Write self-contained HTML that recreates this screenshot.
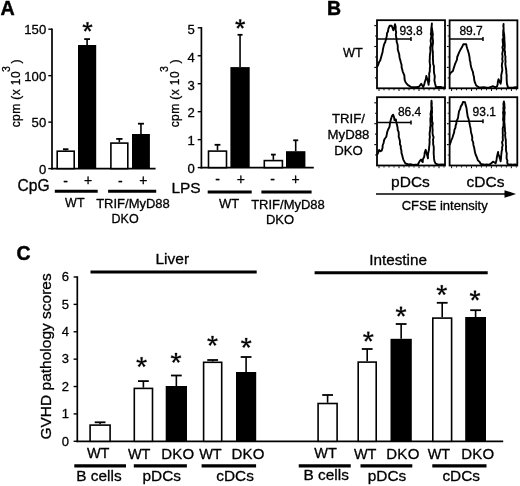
<!DOCTYPE html>
<html><head><meta charset="utf-8"><title>Figure</title>
<style>
html,body{margin:0;padding:0;background:#fff;}
body{width:520px;height:486px;overflow:hidden;}
svg{display:block;}
svg text{font-family:"Liberation Sans", sans-serif;fill:#000;stroke:#000;stroke-width:0.3px;stroke-linejoin:round;}
svg{will-change:transform;}
</style></head><body>
<svg width="520" height="486" viewBox="0 0 520 486">
<rect x="0" y="0" width="520" height="486" fill="#fff"/>
<text x="0.4" y="14.7" font-size="19.7" text-anchor="start" font-weight="bold" style="stroke-width:0.45px">A</text>
<line x1="52.0" y1="28.5" x2="52.0" y2="169.45" stroke="#000" stroke-width="1.7" stroke-linecap="butt"/>
<line x1="51.15" y1="168.6" x2="155.6" y2="168.6" stroke="#000" stroke-width="1.7" stroke-linecap="butt"/>
<line x1="48.3" y1="168.6" x2="52.0" y2="168.6" stroke="#000" stroke-width="1.4" stroke-linecap="butt"/>
<text x="46.2" y="173.5" font-size="13.1" text-anchor="end" font-weight="normal">0</text>
<line x1="48.3" y1="122.13333333333333" x2="52.0" y2="122.13333333333333" stroke="#000" stroke-width="1.4" stroke-linecap="butt"/>
<text x="46.2" y="127.03333333333333" font-size="13.1" text-anchor="end" font-weight="normal">50</text>
<line x1="48.3" y1="75.66666666666666" x2="52.0" y2="75.66666666666666" stroke="#000" stroke-width="1.4" stroke-linecap="butt"/>
<text x="46.2" y="80.56666666666666" font-size="13.1" text-anchor="end" font-weight="normal">100</text>
<line x1="48.3" y1="29.19999999999999" x2="52.0" y2="29.19999999999999" stroke="#000" stroke-width="1.4" stroke-linecap="butt"/>
<text x="46.2" y="34.09999999999999" font-size="13.1" text-anchor="end" font-weight="normal">150</text>
<text x="20.4" y="127.3" font-size="12" text-anchor="start" font-weight="normal" transform="rotate(-90 20.4 127.3)" letter-spacing="0.4">cpm (x 10</text>
<text x="10.099999999999998" y="72.0" font-size="10.5" text-anchor="start" font-weight="normal" transform="rotate(-90 10.099999999999998 72.0)">3</text>
<text x="20.4" y="63.6" font-size="12" text-anchor="start" font-weight="normal" transform="rotate(-90 20.4 63.6)">)</text>
<line x1="65.7" y1="150.4" x2="65.7" y2="149.2" stroke="#000" stroke-width="1.6" stroke-linecap="butt"/>
<line x1="62.95" y1="149.2" x2="68.45" y2="149.2" stroke="#000" stroke-width="1.8" stroke-linecap="butt"/>
<rect x="57.199999999999996" y="151.20000000000002" width="17.0" height="17.399999999999988" fill="#fff" stroke="#000" stroke-width="1.6"/>
<line x1="87.1" y1="45" x2="87.1" y2="39.1" stroke="#000" stroke-width="1.6" stroke-linecap="butt"/>
<line x1="84.19999999999999" y1="39.1" x2="90.0" y2="39.1" stroke="#000" stroke-width="1.8" stroke-linecap="butt"/>
<rect x="78" y="45" width="18.200000000000003" height="123.6" fill="#000"/>
<line x1="119.35" y1="142.3" x2="119.35" y2="138.9" stroke="#000" stroke-width="1.6" stroke-linecap="butt"/>
<line x1="116.19999999999999" y1="138.9" x2="122.5" y2="138.9" stroke="#000" stroke-width="1.8" stroke-linecap="butt"/>
<rect x="110.89999999999999" y="143.10000000000002" width="16.9" height="25.499999999999982" fill="#fff" stroke="#000" stroke-width="1.6"/>
<line x1="140.95" y1="134" x2="140.95" y2="123.7" stroke="#000" stroke-width="1.6" stroke-linecap="butt"/>
<line x1="137.95" y1="123.7" x2="143.95" y2="123.7" stroke="#000" stroke-width="1.8" stroke-linecap="butt"/>
<rect x="132" y="134" width="17.900000000000006" height="34.599999999999994" fill="#000"/>
<path d="M88.05,27.00L88.60,22.30L86.40,22.30L86.95,27.00ZM87.67,27.52L92.31,26.59L91.63,24.50L87.33,26.48ZM87.06,27.32L89.37,31.45L91.15,30.16L87.94,26.68ZM87.06,26.68L83.85,30.16L85.63,31.45L87.94,27.32ZM87.67,26.48L83.37,24.50L82.69,26.59L87.33,27.52Z" fill="#000" stroke="#000" stroke-width="0.3" stroke-linejoin="round"/>
<text x="17.6" y="191.4" font-size="15.6" text-anchor="start" font-weight="normal">CpG</text>
<text x="65.5" y="185.5" font-size="14" text-anchor="middle" font-weight="normal">-</text>
<text x="88.2" y="185.3" font-size="14" text-anchor="middle" font-weight="normal">+</text>
<text x="120.4" y="185.5" font-size="14" text-anchor="middle" font-weight="normal">-</text>
<text x="143.4" y="185.1" font-size="14" text-anchor="middle" font-weight="normal">+</text>
<line x1="54.8" y1="191.3" x2="97.7" y2="191.3" stroke="#000" stroke-width="3" stroke-linecap="butt"/>
<line x1="108.1" y1="191.3" x2="156.2" y2="191.3" stroke="#000" stroke-width="3" stroke-linecap="butt"/>
<text x="74.8" y="207.4" font-size="12.5" text-anchor="middle" font-weight="normal">WT</text>
<text x="133" y="208" font-size="13" text-anchor="middle" font-weight="normal">TRIF/MyD88</text>
<text x="125.1" y="223.1" font-size="12.5" text-anchor="middle" font-weight="normal">DKO</text>
<line x1="201.4" y1="27.1" x2="201.4" y2="168.45" stroke="#000" stroke-width="1.7" stroke-linecap="butt"/>
<line x1="200.55" y1="167.6" x2="313.8" y2="167.6" stroke="#000" stroke-width="1.7" stroke-linecap="butt"/>
<line x1="197.70000000000002" y1="167.6" x2="201.4" y2="167.6" stroke="#000" stroke-width="1.4" stroke-linecap="butt"/>
<text x="194.8" y="173.4" font-size="13.1" text-anchor="end" font-weight="normal">0</text>
<line x1="197.70000000000002" y1="139.64" x2="201.4" y2="139.64" stroke="#000" stroke-width="1.4" stroke-linecap="butt"/>
<text x="194.8" y="145.44" font-size="13.1" text-anchor="end" font-weight="normal">1</text>
<line x1="197.70000000000002" y1="111.68" x2="201.4" y2="111.68" stroke="#000" stroke-width="1.4" stroke-linecap="butt"/>
<text x="194.8" y="117.48" font-size="13.1" text-anchor="end" font-weight="normal">2</text>
<line x1="197.70000000000002" y1="83.72" x2="201.4" y2="83.72" stroke="#000" stroke-width="1.4" stroke-linecap="butt"/>
<text x="194.8" y="89.52" font-size="13.1" text-anchor="end" font-weight="normal">3</text>
<line x1="197.70000000000002" y1="55.760000000000005" x2="201.4" y2="55.760000000000005" stroke="#000" stroke-width="1.4" stroke-linecap="butt"/>
<text x="194.8" y="61.56" font-size="13.1" text-anchor="end" font-weight="normal">4</text>
<line x1="197.70000000000002" y1="27.80000000000001" x2="201.4" y2="27.80000000000001" stroke="#000" stroke-width="1.4" stroke-linecap="butt"/>
<text x="194.8" y="33.60000000000001" font-size="13.1" text-anchor="end" font-weight="normal">5</text>
<text x="178.9" y="127.3" font-size="12" text-anchor="start" font-weight="normal" transform="rotate(-90 178.9 127.3)" letter-spacing="0.4">cpm (x 10</text>
<text x="167.6" y="72.0" font-size="10.5" text-anchor="start" font-weight="normal" transform="rotate(-90 167.6 72.0)">3</text>
<text x="178.9" y="63.6" font-size="12" text-anchor="start" font-weight="normal" transform="rotate(-90 178.9 63.6)">)</text>
<line x1="217.5" y1="150.3" x2="217.5" y2="144.8" stroke="#000" stroke-width="1.6" stroke-linecap="butt"/>
<line x1="214.6" y1="144.8" x2="220.4" y2="144.8" stroke="#000" stroke-width="1.8" stroke-linecap="butt"/>
<rect x="208.5" y="151.10000000000002" width="18.00000000000002" height="16.499999999999982" fill="#fff" stroke="#000" stroke-width="1.6"/>
<line x1="240.05" y1="67.1" x2="240.05" y2="34.8" stroke="#000" stroke-width="1.6" stroke-linecap="butt"/>
<line x1="237.55" y1="34.8" x2="242.55" y2="34.8" stroke="#000" stroke-width="1.8" stroke-linecap="butt"/>
<rect x="230.4" y="67.1" width="19.299999999999983" height="100.5" fill="#000"/>
<line x1="273.35" y1="159.8" x2="273.35" y2="154.6" stroke="#000" stroke-width="1.6" stroke-linecap="butt"/>
<line x1="270.95000000000005" y1="154.6" x2="275.75" y2="154.6" stroke="#000" stroke-width="1.8" stroke-linecap="butt"/>
<rect x="264.3" y="160.60000000000002" width="18.099999999999987" height="6.999999999999983" fill="#fff" stroke="#000" stroke-width="1.6"/>
<line x1="295.7" y1="151.2" x2="295.7" y2="140.3" stroke="#000" stroke-width="1.6" stroke-linecap="butt"/>
<line x1="293.2" y1="140.3" x2="298.2" y2="140.3" stroke="#000" stroke-width="1.8" stroke-linecap="butt"/>
<rect x="286" y="151.2" width="19.399999999999977" height="16.400000000000006" fill="#000"/>
<path d="M240.75,24.10L241.30,19.40L239.10,19.40L239.65,24.10ZM240.37,24.62L245.01,23.69L244.33,21.60L240.03,23.58ZM239.76,24.42L242.07,28.55L243.85,27.26L240.64,23.78ZM239.76,23.78L236.55,27.26L238.33,28.55L240.64,24.42ZM240.37,23.58L236.07,21.60L235.39,23.69L240.03,24.62Z" fill="#000" stroke="#000" stroke-width="0.3" stroke-linejoin="round"/>
<text x="171.4" y="193.4" font-size="15.5" text-anchor="start" font-weight="normal">LPS</text>
<text x="217.7" y="184.3" font-size="14" text-anchor="middle" font-weight="normal">-</text>
<text x="240.8" y="184.1" font-size="14" text-anchor="middle" font-weight="normal">+</text>
<text x="272.5" y="184.3" font-size="14" text-anchor="middle" font-weight="normal">-</text>
<text x="295.6" y="184.1" font-size="14" text-anchor="middle" font-weight="normal">+</text>
<line x1="207.7" y1="191.9" x2="251.7" y2="191.9" stroke="#000" stroke-width="3" stroke-linecap="butt"/>
<line x1="261.4" y1="191.9" x2="311.6" y2="191.9" stroke="#000" stroke-width="3" stroke-linecap="butt"/>
<text x="229.2" y="208" font-size="13" text-anchor="middle" font-weight="normal">WT</text>
<text x="288" y="208.5" font-size="13" text-anchor="middle" font-weight="normal">TRIF/MyD88</text>
<text x="280" y="223.8" font-size="13" text-anchor="middle" font-weight="normal">DKO</text>
<text x="327.0" y="15.4" font-size="19.5" text-anchor="start" font-weight="bold" style="stroke-width:0.45px">B</text>
<rect x="377.0" y="20.2" width="68.00" height="68.10" fill="#fff" stroke="#000" stroke-width="1.8"/>
<line x1="375.09999999999997" y1="77.85" x2="376.2" y2="77.85" stroke="#000" stroke-width="1.1" stroke-linecap="butt"/>
<line x1="374.3" y1="67.4" x2="376.2" y2="67.4" stroke="#000" stroke-width="1.1" stroke-linecap="butt"/>
<line x1="375.09999999999997" y1="56.95" x2="376.2" y2="56.95" stroke="#000" stroke-width="1.1" stroke-linecap="butt"/>
<line x1="374.3" y1="46.5" x2="376.2" y2="46.5" stroke="#000" stroke-width="1.1" stroke-linecap="butt"/>
<line x1="375.09999999999997" y1="36.05" x2="376.2" y2="36.05" stroke="#000" stroke-width="1.1" stroke-linecap="butt"/>
<line x1="374.3" y1="25.6" x2="376.2" y2="25.6" stroke="#000" stroke-width="1.1" stroke-linecap="butt"/>
<line x1="379.0" y1="89.1" x2="379.0" y2="91.0" stroke="#000" stroke-width="1.0" stroke-linecap="butt"/>
<line x1="384.0" y1="89.1" x2="384.0" y2="90.3" stroke="#000" stroke-width="1.0" stroke-linecap="butt"/>
<line x1="389.0" y1="89.1" x2="389.0" y2="90.3" stroke="#000" stroke-width="1.0" stroke-linecap="butt"/>
<line x1="394.0" y1="89.1" x2="394.0" y2="90.3" stroke="#000" stroke-width="1.0" stroke-linecap="butt"/>
<line x1="399.0" y1="89.1" x2="399.0" y2="91.0" stroke="#000" stroke-width="1.0" stroke-linecap="butt"/>
<line x1="404.0" y1="89.1" x2="404.0" y2="90.3" stroke="#000" stroke-width="1.0" stroke-linecap="butt"/>
<line x1="409.0" y1="89.1" x2="409.0" y2="90.3" stroke="#000" stroke-width="1.0" stroke-linecap="butt"/>
<line x1="414.0" y1="89.1" x2="414.0" y2="90.3" stroke="#000" stroke-width="1.0" stroke-linecap="butt"/>
<line x1="419.0" y1="89.1" x2="419.0" y2="91.0" stroke="#000" stroke-width="1.0" stroke-linecap="butt"/>
<line x1="424.0" y1="89.1" x2="424.0" y2="90.3" stroke="#000" stroke-width="1.0" stroke-linecap="butt"/>
<line x1="429.0" y1="89.1" x2="429.0" y2="90.3" stroke="#000" stroke-width="1.0" stroke-linecap="butt"/>
<line x1="434.0" y1="89.1" x2="434.0" y2="90.3" stroke="#000" stroke-width="1.0" stroke-linecap="butt"/>
<line x1="439.0" y1="89.1" x2="439.0" y2="91.0" stroke="#000" stroke-width="1.0" stroke-linecap="butt"/>
<line x1="444.0" y1="89.1" x2="444.0" y2="90.3" stroke="#000" stroke-width="1.0" stroke-linecap="butt"/>
<polyline points="377.0,67.2 378.3,64.5 379.1,62.1 380.2,60.4 381.1,57.2 381.8,54.7 382.6,52.0 382.9,49.5 383.5,46.9 384.2,44.1 385.2,42.2 385.9,39.4 386.8,36.0 387.0,33.3 388.0,31.5 388.4,28.7 389.6,25.8 391.7,25.8 392.6,28.0 393.3,30.3 394.3,27.0 395.0,24.2 395.7,26.7 395.6,30.0 396.2,32.2 395.8,34.4 396.2,37.3 396.6,39.4 396.7,42.0 397.5,44.3 397.8,46.6 397.7,49.2 398.5,52.0 399.3,54.7 399.5,57.5 400.3,60.2 400.8,62.3 401.6,65.0 401.6,67.2 402.3,69.8 402.8,71.8 403.6,73.7 404.4,75.7 404.5,78.5 404.8,80.4 405.7,82.5 407.7,84.9 411.0,87.0 414.4,87.3 416.3,87.2 419.0,86.8 421.2,83.7 423.2,87.0 424.2,84.6 424.8,82.0 425.9,78.8 426.3,75.9 427.5,80.0 428.2,82.5 428.6,84.9 428.8,82.6 429.3,80.9 429.1,78.4 429.3,76.0 429.1,73.7 429.8,71.4 429.8,68.5 430.2,65.9 429.9,63.9 429.6,61.4 429.8,58.7 429.8,57.0 430.0,54.1 430.4,52.0 430.4,50.1 430.2,47.5 430.7,45.7 431.0,43.4 430.6,40.8 430.8,39.0 431.4,36.1 430.8,34.0 431.2,32.0 431.2,29.2 431.7,26.1 431.9,23.5 431.6,26.3 432.1,29.2 432.4,32.0 432.9,34.4 432.5,36.6 432.7,38.3 433.0,41.1 433.0,43.4 432.6,45.2 432.4,47.7 432.5,49.4 432.9,52.0 432.8,54.1 433.0,56.3 432.9,58.8 433.1,61.3 433.2,64.1 433.9,65.8 433.9,68.5 433.9,70.8 434.1,73.1 434.8,76.3 434.6,78.4 434.4,80.5 435.0,83.3 436.0,87.2 438.1,87.0 440.8,86.9 442.3,87.7 445.0,87.3" fill="none" stroke="#000" stroke-width="1.9" stroke-linejoin="round"/>
<line x1="377.0" y1="39.0" x2="411.0" y2="39.0" stroke="#000" stroke-width="1.5" stroke-linecap="butt"/>
<line x1="411.0" y1="37.0" x2="411.0" y2="41.0" stroke="#000" stroke-width="1.5" stroke-linecap="butt"/>
<text x="399.4" y="34.6" font-size="12" text-anchor="start" font-weight="normal">93.8</text>
<rect x="449.6" y="20.3" width="67.80" height="68.00" fill="#fff" stroke="#000" stroke-width="1.8"/>
<line x1="447.7" y1="77.85" x2="448.8" y2="77.85" stroke="#000" stroke-width="1.1" stroke-linecap="butt"/>
<line x1="446.90000000000003" y1="67.4" x2="448.8" y2="67.4" stroke="#000" stroke-width="1.1" stroke-linecap="butt"/>
<line x1="447.7" y1="56.95" x2="448.8" y2="56.95" stroke="#000" stroke-width="1.1" stroke-linecap="butt"/>
<line x1="446.90000000000003" y1="46.5" x2="448.8" y2="46.5" stroke="#000" stroke-width="1.1" stroke-linecap="butt"/>
<line x1="447.7" y1="36.05" x2="448.8" y2="36.05" stroke="#000" stroke-width="1.1" stroke-linecap="butt"/>
<line x1="446.90000000000003" y1="25.6" x2="448.8" y2="25.6" stroke="#000" stroke-width="1.1" stroke-linecap="butt"/>
<line x1="451.6" y1="89.1" x2="451.6" y2="91.0" stroke="#000" stroke-width="1.0" stroke-linecap="butt"/>
<line x1="456.5846153846154" y1="89.1" x2="456.5846153846154" y2="90.3" stroke="#000" stroke-width="1.0" stroke-linecap="butt"/>
<line x1="461.5692307692308" y1="89.1" x2="461.5692307692308" y2="90.3" stroke="#000" stroke-width="1.0" stroke-linecap="butt"/>
<line x1="466.55384615384617" y1="89.1" x2="466.55384615384617" y2="90.3" stroke="#000" stroke-width="1.0" stroke-linecap="butt"/>
<line x1="471.53846153846155" y1="89.1" x2="471.53846153846155" y2="91.0" stroke="#000" stroke-width="1.0" stroke-linecap="butt"/>
<line x1="476.5230769230769" y1="89.1" x2="476.5230769230769" y2="90.3" stroke="#000" stroke-width="1.0" stroke-linecap="butt"/>
<line x1="481.5076923076923" y1="89.1" x2="481.5076923076923" y2="90.3" stroke="#000" stroke-width="1.0" stroke-linecap="butt"/>
<line x1="486.4923076923077" y1="89.1" x2="486.4923076923077" y2="90.3" stroke="#000" stroke-width="1.0" stroke-linecap="butt"/>
<line x1="491.4769230769231" y1="89.1" x2="491.4769230769231" y2="91.0" stroke="#000" stroke-width="1.0" stroke-linecap="butt"/>
<line x1="496.46153846153845" y1="89.1" x2="496.46153846153845" y2="90.3" stroke="#000" stroke-width="1.0" stroke-linecap="butt"/>
<line x1="501.44615384615383" y1="89.1" x2="501.44615384615383" y2="90.3" stroke="#000" stroke-width="1.0" stroke-linecap="butt"/>
<line x1="506.4307692307692" y1="89.1" x2="506.4307692307692" y2="90.3" stroke="#000" stroke-width="1.0" stroke-linecap="butt"/>
<line x1="511.4153846153846" y1="89.1" x2="511.4153846153846" y2="91.0" stroke="#000" stroke-width="1.0" stroke-linecap="butt"/>
<line x1="516.4" y1="89.1" x2="516.4" y2="90.3" stroke="#000" stroke-width="1.0" stroke-linecap="butt"/>
<polyline points="449.6,74.5 451.0,72.5 452.9,71.1 453.7,68.3 454.5,65.7 455.2,63.6 456.0,61.9 457.0,59.5 457.2,57.0 458.1,55.0 459.0,52.6 460.4,49.8 461.9,47.3 463.3,44.3 466.2,44.1 466.6,46.2 467.3,48.7 468.2,51.4 468.8,53.6 469.3,55.8 469.6,57.9 469.8,60.2 470.4,62.1 470.6,64.6 471.2,67.3 471.9,69.4 472.9,72.0 473.4,75.0 474.0,77.1 474.2,79.8 474.9,82.4 476.2,85.5 478.8,87.2 481.2,87.4 483.7,87.1 486.8,87.8 489.4,87.4 493.2,86.2 495.0,87.3 496.9,86.6 497.7,84.3 497.8,82.0 498.5,79.2 499.5,81.5 500.6,83.7 501.1,81.1 501.3,78.0 501.2,75.4 501.8,72.6 502.3,70.6 502.2,68.0 501.8,66.0 502.0,63.7 502.7,61.1 502.2,59.3 502.6,56.3 502.2,54.0 502.6,52.0 503.0,49.8 502.4,47.4 503.2,44.9 502.8,42.3 502.6,39.4 503.5,37.6 503.1,35.0 503.2,33.2 503.2,30.9 503.7,28.1 503.3,26.0 503.6,24.0 503.5,26.3 503.6,28.3 503.6,31.0 503.9,32.8 504.2,35.0 504.4,37.8 504.4,40.2 504.6,42.3 504.7,44.3 504.8,46.9 504.5,49.8 505.1,52.0 504.9,54.3 505.5,56.8 505.3,59.1 505.6,61.7 505.3,63.8 505.6,65.9 505.9,68.5 506.3,70.7 506.3,73.2 506.7,75.1 506.6,77.4 506.7,79.8 506.8,81.9 507.0,84.1 508.0,87.4 510.3,87.8 512.9,87.7 515.4,87.2 517.4,87.4" fill="none" stroke="#000" stroke-width="1.9" stroke-linejoin="round"/>
<line x1="449.6" y1="38.9" x2="483.0" y2="38.9" stroke="#000" stroke-width="1.5" stroke-linecap="butt"/>
<line x1="483.0" y1="36.9" x2="483.0" y2="40.9" stroke="#000" stroke-width="1.5" stroke-linecap="butt"/>
<text x="459.4" y="35" font-size="12" text-anchor="start" font-weight="normal">89.7</text>
<rect x="377.0" y="97.2" width="68.00" height="68.30" fill="#fff" stroke="#000" stroke-width="1.8"/>
<line x1="375.09999999999997" y1="155.05" x2="376.2" y2="155.05" stroke="#000" stroke-width="1.1" stroke-linecap="butt"/>
<line x1="374.3" y1="144.6" x2="376.2" y2="144.6" stroke="#000" stroke-width="1.1" stroke-linecap="butt"/>
<line x1="375.09999999999997" y1="134.15" x2="376.2" y2="134.15" stroke="#000" stroke-width="1.1" stroke-linecap="butt"/>
<line x1="374.3" y1="123.7" x2="376.2" y2="123.7" stroke="#000" stroke-width="1.1" stroke-linecap="butt"/>
<line x1="375.09999999999997" y1="113.25" x2="376.2" y2="113.25" stroke="#000" stroke-width="1.1" stroke-linecap="butt"/>
<line x1="374.3" y1="102.80000000000001" x2="376.2" y2="102.80000000000001" stroke="#000" stroke-width="1.1" stroke-linecap="butt"/>
<line x1="379.0" y1="166.3" x2="379.0" y2="168.20000000000002" stroke="#000" stroke-width="1.0" stroke-linecap="butt"/>
<line x1="384.0" y1="166.3" x2="384.0" y2="167.5" stroke="#000" stroke-width="1.0" stroke-linecap="butt"/>
<line x1="389.0" y1="166.3" x2="389.0" y2="167.5" stroke="#000" stroke-width="1.0" stroke-linecap="butt"/>
<line x1="394.0" y1="166.3" x2="394.0" y2="167.5" stroke="#000" stroke-width="1.0" stroke-linecap="butt"/>
<line x1="399.0" y1="166.3" x2="399.0" y2="168.20000000000002" stroke="#000" stroke-width="1.0" stroke-linecap="butt"/>
<line x1="404.0" y1="166.3" x2="404.0" y2="167.5" stroke="#000" stroke-width="1.0" stroke-linecap="butt"/>
<line x1="409.0" y1="166.3" x2="409.0" y2="167.5" stroke="#000" stroke-width="1.0" stroke-linecap="butt"/>
<line x1="414.0" y1="166.3" x2="414.0" y2="167.5" stroke="#000" stroke-width="1.0" stroke-linecap="butt"/>
<line x1="419.0" y1="166.3" x2="419.0" y2="168.20000000000002" stroke="#000" stroke-width="1.0" stroke-linecap="butt"/>
<line x1="424.0" y1="166.3" x2="424.0" y2="167.5" stroke="#000" stroke-width="1.0" stroke-linecap="butt"/>
<line x1="429.0" y1="166.3" x2="429.0" y2="167.5" stroke="#000" stroke-width="1.0" stroke-linecap="butt"/>
<line x1="434.0" y1="166.3" x2="434.0" y2="167.5" stroke="#000" stroke-width="1.0" stroke-linecap="butt"/>
<line x1="439.0" y1="166.3" x2="439.0" y2="168.20000000000002" stroke="#000" stroke-width="1.0" stroke-linecap="butt"/>
<line x1="444.0" y1="166.3" x2="444.0" y2="167.5" stroke="#000" stroke-width="1.0" stroke-linecap="butt"/>
<polyline points="377.0,155.1 378.1,152.9 379.1,150.0 380.5,151.2 381.7,150.6 382.6,147.7 382.6,145.5 383.6,143.0 384.0,140.5 384.8,138.7 386.3,136.7 386.8,134.1 387.3,131.7 388.5,128.7 389.5,126.9 389.9,123.9 390.3,121.7 391.1,118.8 391.9,116.2 393.1,114.7 394.2,117.6 394.4,120.0 395.9,119.4 396.2,122.1 397.0,124.8 397.6,127.7 397.7,129.8 398.6,131.9 398.8,134.5 398.7,136.7 399.5,139.2 400.0,141.5 399.9,144.2 400.9,146.5 400.7,148.1 401.4,150.6 401.5,153.1 402.1,154.8 402.8,157.7 403.3,159.6 405.3,163.4 408.4,164.5 411.1,164.3 412.8,164.9 415.6,164.7 417.9,164.5 419.5,161.3 421.0,159.6 422.7,162.1 422.9,159.2 424.1,157.1 424.5,154.7 424.7,152.6 425.7,149.8 426.8,154.0 427.5,156.5 428.0,158.4 427.9,155.9 428.2,153.1 428.9,150.0 429.1,147.3 429.4,145.3 429.6,142.3 429.5,139.5 429.9,137.1 429.6,134.6 429.7,132.2 430.2,130.0 430.1,127.6 430.6,125.3 430.5,123.0 430.4,120.6 430.4,118.3 430.9,116.5 430.5,114.2 430.9,112.0 431.4,109.4 431.4,107.4 431.3,105.5 431.3,103.0 431.5,100.7 431.8,103.4 431.6,105.5 432.0,107.6 431.9,109.6 432.1,112.0 431.8,113.9 431.9,116.7 432.1,118.4 432.0,121.3 432.8,123.4 432.4,125.3 432.4,127.7 432.7,130.0 432.5,132.3 432.8,135.1 433.6,137.1 433.0,139.8 433.2,141.7 433.1,144.0 433.7,146.5 433.8,149.0 433.7,151.4 433.7,153.7 433.9,156.3 434.0,158.4 434.5,161.3 435.6,163.7 438.5,164.6 441.6,164.4 445.0,164.6" fill="none" stroke="#000" stroke-width="1.9" stroke-linejoin="round"/>
<line x1="377.0" y1="122.5" x2="411.0" y2="122.5" stroke="#000" stroke-width="1.5" stroke-linecap="butt"/>
<line x1="411.0" y1="120.5" x2="411.0" y2="124.5" stroke="#000" stroke-width="1.5" stroke-linecap="butt"/>
<text x="397.9" y="116.2" font-size="12" text-anchor="start" font-weight="normal">86.4</text>
<rect x="449.6" y="97.2" width="67.70" height="68.30" fill="#fff" stroke="#000" stroke-width="1.8"/>
<line x1="447.7" y1="155.05" x2="448.8" y2="155.05" stroke="#000" stroke-width="1.1" stroke-linecap="butt"/>
<line x1="446.90000000000003" y1="144.6" x2="448.8" y2="144.6" stroke="#000" stroke-width="1.1" stroke-linecap="butt"/>
<line x1="447.7" y1="134.15" x2="448.8" y2="134.15" stroke="#000" stroke-width="1.1" stroke-linecap="butt"/>
<line x1="446.90000000000003" y1="123.7" x2="448.8" y2="123.7" stroke="#000" stroke-width="1.1" stroke-linecap="butt"/>
<line x1="447.7" y1="113.25" x2="448.8" y2="113.25" stroke="#000" stroke-width="1.1" stroke-linecap="butt"/>
<line x1="446.90000000000003" y1="102.80000000000001" x2="448.8" y2="102.80000000000001" stroke="#000" stroke-width="1.1" stroke-linecap="butt"/>
<line x1="451.6" y1="166.3" x2="451.6" y2="168.20000000000002" stroke="#000" stroke-width="1.0" stroke-linecap="butt"/>
<line x1="456.5769230769231" y1="166.3" x2="456.5769230769231" y2="167.5" stroke="#000" stroke-width="1.0" stroke-linecap="butt"/>
<line x1="461.55384615384617" y1="166.3" x2="461.55384615384617" y2="167.5" stroke="#000" stroke-width="1.0" stroke-linecap="butt"/>
<line x1="466.53076923076924" y1="166.3" x2="466.53076923076924" y2="167.5" stroke="#000" stroke-width="1.0" stroke-linecap="butt"/>
<line x1="471.5076923076923" y1="166.3" x2="471.5076923076923" y2="168.20000000000002" stroke="#000" stroke-width="1.0" stroke-linecap="butt"/>
<line x1="476.4846153846154" y1="166.3" x2="476.4846153846154" y2="167.5" stroke="#000" stroke-width="1.0" stroke-linecap="butt"/>
<line x1="481.46153846153845" y1="166.3" x2="481.46153846153845" y2="167.5" stroke="#000" stroke-width="1.0" stroke-linecap="butt"/>
<line x1="486.4384615384615" y1="166.3" x2="486.4384615384615" y2="167.5" stroke="#000" stroke-width="1.0" stroke-linecap="butt"/>
<line x1="491.4153846153846" y1="166.3" x2="491.4153846153846" y2="168.20000000000002" stroke="#000" stroke-width="1.0" stroke-linecap="butt"/>
<line x1="496.39230769230767" y1="166.3" x2="496.39230769230767" y2="167.5" stroke="#000" stroke-width="1.0" stroke-linecap="butt"/>
<line x1="501.36923076923074" y1="166.3" x2="501.36923076923074" y2="167.5" stroke="#000" stroke-width="1.0" stroke-linecap="butt"/>
<line x1="506.3461538461538" y1="166.3" x2="506.3461538461538" y2="167.5" stroke="#000" stroke-width="1.0" stroke-linecap="butt"/>
<line x1="511.3230769230769" y1="166.3" x2="511.3230769230769" y2="168.20000000000002" stroke="#000" stroke-width="1.0" stroke-linecap="butt"/>
<line x1="516.3" y1="166.3" x2="516.3" y2="167.5" stroke="#000" stroke-width="1.0" stroke-linecap="butt"/>
<polyline points="449.6,144.9 450.5,142.7 451.2,140.4 452.5,137.6 453.4,134.5 454.1,132.6 454.4,129.9 455.5,127.5 455.6,125.6 456.4,123.4 456.4,121.2 457.8,118.6 458.2,116.4 458.6,113.8 459.0,111.4 460.1,109.2 460.8,106.4 462.2,104.4 463.0,101.9 465.0,102.2 465.6,104.9 466.3,107.1 466.7,109.3 466.9,111.3 467.3,113.9 467.7,116.7 468.6,118.9 469.0,121.2 469.6,123.7 469.9,125.5 470.6,128.5 470.8,130.7 471.2,133.0 471.8,135.0 472.3,137.5 472.1,139.9 473.2,142.3 473.4,144.9 474.2,147.7 474.5,149.6 475.0,152.3 475.6,154.5 477.0,157.6 477.9,160.4 479.5,161.8 480.8,163.9 484.5,164.7 486.6,164.4 489.4,164.6 491.0,163.5 493.0,161.7 494.6,162.5 495.6,163.4 496.5,160.0 496.9,157.0 497.6,154.0 498.1,151.9 498.3,154.0 499.3,156.5 500.1,159.1 500.6,161.3 501.0,158.7 501.1,156.4 501.4,154.0 501.6,151.4 502.2,149.3 502.1,147.3 502.7,145.2 502.0,142.3 502.9,140.3 502.7,137.3 502.9,135.0 502.7,133.2 502.8,130.6 502.7,128.4 503.5,125.8 503.5,123.9 503.6,121.8 503.0,119.8 503.3,116.8 503.4,115.0 503.0,112.7 503.5,110.3 503.3,108.1 503.6,106.3 503.4,104.0 503.9,101.5 504.3,103.4 504.5,106.2 504.6,108.1 504.2,110.4 504.8,112.8 504.5,115.0 504.4,117.2 504.4,119.0 504.3,122.0 504.6,124.3 504.6,125.9 504.9,128.1 504.9,131.0 505.4,133.1 505.1,135.0 505.4,137.7 505.8,139.8 505.8,141.7 505.9,144.4 506.1,146.9 505.9,148.7 506.2,151.5 506.8,153.5 506.6,156.0 506.6,158.6 507.4,160.5 507.2,163.0 508.4,164.7 510.8,164.5 512.9,164.6 514.8,164.4 517.3,164.7" fill="none" stroke="#000" stroke-width="1.9" stroke-linejoin="round"/>
<line x1="449.6" y1="121.3" x2="483.0" y2="121.3" stroke="#000" stroke-width="1.5" stroke-linecap="butt"/>
<line x1="483.0" y1="119.3" x2="483.0" y2="123.3" stroke="#000" stroke-width="1.5" stroke-linecap="butt"/>
<text x="472.6" y="115.6" font-size="12" text-anchor="start" font-weight="normal">93.1</text>
<text x="343" y="57.3" font-size="12.7" text-anchor="start" font-weight="normal">WT</text>
<text x="348.5" y="123" font-size="13.2" text-anchor="middle" font-weight="normal">TRIF/</text>
<text x="348.5" y="139" font-size="13.2" text-anchor="middle" font-weight="normal">MyD88</text>
<text x="348.5" y="155" font-size="13.2" text-anchor="middle" font-weight="normal">DKO</text>
<text x="410.5" y="186.5" font-size="15.5" text-anchor="middle" font-weight="normal">pDCs</text>
<text x="485.5" y="186.5" font-size="15.5" text-anchor="middle" font-weight="normal">cDCs</text>
<line x1="376" y1="194" x2="506" y2="194" stroke="#000" stroke-width="1.6" stroke-linecap="butt"/>
<polygon points="504.5,190.2 516,194 504.5,197.8" fill="#000"/>
<text x="444.7" y="210" font-size="13" text-anchor="middle" font-weight="normal">CFSE intensity</text>
<text x="16.6" y="260.4" font-size="19.4" text-anchor="start" font-weight="bold" style="stroke-width:0.45px">C</text>
<line x1="77.3" y1="276.3" x2="77.3" y2="442.15000000000003" stroke="#000" stroke-width="1.7" stroke-linecap="butt"/>
<line x1="76.45" y1="441.3" x2="503.2" y2="441.3" stroke="#000" stroke-width="1.7" stroke-linecap="butt"/>
<line x1="73.6" y1="441.3" x2="77.3" y2="441.3" stroke="#000" stroke-width="1.4" stroke-linecap="butt"/>
<text x="69.0" y="445.6" font-size="13" text-anchor="end" font-weight="normal">0</text>
<line x1="73.6" y1="413.9166666666667" x2="77.3" y2="413.9166666666667" stroke="#000" stroke-width="1.4" stroke-linecap="butt"/>
<text x="69.0" y="418.2166666666667" font-size="13" text-anchor="end" font-weight="normal">1</text>
<line x1="73.6" y1="386.53333333333336" x2="77.3" y2="386.53333333333336" stroke="#000" stroke-width="1.4" stroke-linecap="butt"/>
<text x="69.0" y="390.83333333333337" font-size="13" text-anchor="end" font-weight="normal">2</text>
<line x1="73.6" y1="359.15" x2="77.3" y2="359.15" stroke="#000" stroke-width="1.4" stroke-linecap="butt"/>
<text x="69.0" y="363.45" font-size="13" text-anchor="end" font-weight="normal">3</text>
<line x1="73.6" y1="331.76666666666665" x2="77.3" y2="331.76666666666665" stroke="#000" stroke-width="1.4" stroke-linecap="butt"/>
<text x="69.0" y="336.06666666666666" font-size="13" text-anchor="end" font-weight="normal">4</text>
<line x1="73.6" y1="304.3833333333333" x2="77.3" y2="304.3833333333333" stroke="#000" stroke-width="1.4" stroke-linecap="butt"/>
<text x="69.0" y="308.68333333333334" font-size="13" text-anchor="end" font-weight="normal">5</text>
<line x1="73.6" y1="277.0" x2="77.3" y2="277.0" stroke="#000" stroke-width="1.4" stroke-linecap="butt"/>
<text x="69.0" y="281.3" font-size="13" text-anchor="end" font-weight="normal">6</text>
<text x="50.6" y="356.4" font-size="15.5" text-anchor="middle" font-weight="normal" transform="rotate(-90 50.6 356.4)">GVHD pathology scores</text>
<text x="172.3" y="263.5" font-size="15.5" text-anchor="middle" font-weight="normal">Liver</text>
<line x1="90.5" y1="272" x2="256.7" y2="272" stroke="#000" stroke-width="3" stroke-linecap="butt"/>
<text x="398.1" y="264.5" font-size="15.3" text-anchor="middle" font-weight="normal">Intestine</text>
<line x1="314.6" y1="272.8" x2="487.7" y2="272.8" stroke="#000" stroke-width="3" stroke-linecap="butt"/>
<line x1="100.1" y1="424.3" x2="100.1" y2="422.3" stroke="#000" stroke-width="1.6" stroke-linecap="butt"/>
<line x1="94.69999999999999" y1="422.3" x2="105.5" y2="422.3" stroke="#000" stroke-width="1.8" stroke-linecap="butt"/>
<rect x="90.1" y="425.1" width="20.000000000000007" height="16.2" fill="#fff" stroke="#000" stroke-width="1.6"/>
<text x="98.2" y="458.2" font-size="14.5" text-anchor="middle" font-weight="normal">WT</text>
<line x1="143.4" y1="387.6" x2="143.4" y2="381.1" stroke="#000" stroke-width="1.6" stroke-linecap="butt"/>
<line x1="138.0" y1="381.1" x2="148.8" y2="381.1" stroke="#000" stroke-width="1.8" stroke-linecap="butt"/>
<rect x="134.3" y="388.40000000000003" width="18.20000000000001" height="52.89999999999999" fill="#fff" stroke="#000" stroke-width="1.6"/>
<path d="M142.15,362.30L142.70,357.30L140.50,357.30L141.05,362.30ZM141.77,362.82L146.70,361.80L146.02,359.71L141.43,361.78ZM141.16,362.62L143.65,366.99L145.43,365.70L142.04,361.98ZM141.16,361.98L137.77,365.70L139.55,366.99L142.04,362.62ZM141.77,361.78L137.18,359.71L136.50,361.80L141.43,362.82Z" fill="#000" stroke="#000" stroke-width="0.3" stroke-linejoin="round"/>
<text x="139.2" y="459.0" font-size="14.5" text-anchor="middle" font-weight="normal">WT</text>
<line x1="176.35" y1="386" x2="176.35" y2="375.5" stroke="#000" stroke-width="1.6" stroke-linecap="butt"/>
<line x1="170.95" y1="375.5" x2="181.75" y2="375.5" stroke="#000" stroke-width="1.8" stroke-linecap="butt"/>
<rect x="165.7" y="386" width="21.30000000000001" height="55.30000000000001" fill="#000"/>
<path d="M176.55,358.10L177.10,353.10L174.90,353.10L175.45,358.10ZM176.17,358.62L181.10,357.60L180.42,355.51L175.83,357.58ZM175.56,358.42L178.05,362.79L179.83,361.50L176.44,357.78ZM175.56,357.78L172.17,361.50L173.95,362.79L176.44,358.42ZM176.17,357.58L171.58,355.51L170.90,357.60L175.83,358.62Z" fill="#000" stroke="#000" stroke-width="0.3" stroke-linejoin="round"/>
<text x="177.85" y="459.0" font-size="15" text-anchor="middle" font-weight="normal" letter-spacing="0.3">DKO</text>
<line x1="212.65" y1="361.5" x2="212.65" y2="360" stroke="#000" stroke-width="1.6" stroke-linecap="butt"/>
<line x1="207.25" y1="360" x2="218.05" y2="360" stroke="#000" stroke-width="1.8" stroke-linecap="butt"/>
<rect x="203.60000000000002" y="362.3" width="18.099999999999987" height="79.00000000000001" fill="#fff" stroke="#000" stroke-width="1.6"/>
<path d="M213.05,341.00L213.60,336.00L211.40,336.00L211.95,341.00ZM212.67,341.52L217.60,340.50L216.92,338.41L212.33,340.48ZM212.06,341.32L214.55,345.69L216.33,344.40L212.94,340.68ZM212.06,340.68L208.67,344.40L210.45,345.69L212.94,341.32ZM212.67,340.48L208.08,338.41L207.40,340.50L212.33,341.52Z" fill="#000" stroke="#000" stroke-width="0.3" stroke-linejoin="round"/>
<text x="210.4" y="459.0" font-size="14.5" text-anchor="middle" font-weight="normal">WT</text>
<line x1="246.1" y1="372" x2="246.1" y2="357" stroke="#000" stroke-width="1.6" stroke-linecap="butt"/>
<line x1="240.7" y1="357" x2="251.5" y2="357" stroke="#000" stroke-width="1.8" stroke-linecap="butt"/>
<rect x="236" y="372" width="20.19999999999999" height="69.30000000000001" fill="#000"/>
<path d="M246.75,343.10L247.30,338.10L245.10,338.10L245.65,343.10ZM246.37,343.62L251.30,342.60L250.62,340.51L246.03,342.58ZM245.76,343.42L248.25,347.79L250.03,346.50L246.64,342.78ZM245.76,342.78L242.37,346.50L244.15,347.79L246.64,343.42ZM246.37,342.58L241.78,340.51L241.10,342.60L246.03,343.62Z" fill="#000" stroke="#000" stroke-width="0.3" stroke-linejoin="round"/>
<text x="248.15" y="459.0" font-size="15" text-anchor="middle" font-weight="normal" letter-spacing="0.3">DKO</text>
<line x1="327.6" y1="402.7" x2="327.6" y2="395" stroke="#000" stroke-width="1.6" stroke-linecap="butt"/>
<line x1="322.20000000000005" y1="395" x2="333.0" y2="395" stroke="#000" stroke-width="1.8" stroke-linecap="butt"/>
<rect x="318.1" y="403.5" width="18.999999999999964" height="37.800000000000026" fill="#fff" stroke="#000" stroke-width="1.6"/>
<text x="325.5" y="458.25" font-size="14.5" text-anchor="middle" font-weight="normal">WT</text>
<line x1="367.2" y1="361.3" x2="367.2" y2="349" stroke="#000" stroke-width="1.6" stroke-linecap="butt"/>
<line x1="361.8" y1="349" x2="372.59999999999997" y2="349" stroke="#000" stroke-width="1.8" stroke-linecap="butt"/>
<rect x="358.2" y="362.1" width="18.00000000000002" height="79.2" fill="#fff" stroke="#000" stroke-width="1.6"/>
<path d="M368.85,336.80L369.40,331.80L367.20,331.80L367.75,336.80ZM368.47,337.32L373.40,336.30L372.72,334.21L368.13,336.28ZM367.86,337.12L370.35,341.49L372.13,340.20L368.74,336.48ZM367.86,336.48L364.47,340.20L366.25,341.49L368.74,337.12ZM368.47,336.28L363.88,334.21L363.20,336.30L368.13,337.32Z" fill="#000" stroke="#000" stroke-width="0.3" stroke-linejoin="round"/>
<text x="365.2" y="459.3" font-size="14.5" text-anchor="middle" font-weight="normal">WT</text>
<line x1="401.15" y1="338.8" x2="401.15" y2="324" stroke="#000" stroke-width="1.6" stroke-linecap="butt"/>
<line x1="395.75" y1="324" x2="406.54999999999995" y2="324" stroke="#000" stroke-width="1.8" stroke-linecap="butt"/>
<rect x="390.5" y="338.8" width="21.30000000000001" height="102.5" fill="#000"/>
<path d="M401.55,311.80L402.10,306.80L399.90,306.80L400.45,311.80ZM401.17,312.32L406.10,311.30L405.42,309.21L400.83,311.28ZM400.56,312.12L403.05,316.49L404.83,315.20L401.44,311.48ZM400.56,311.48L397.17,315.20L398.95,316.49L401.44,312.12ZM401.17,311.28L396.58,309.21L395.90,311.30L400.83,312.32Z" fill="#000" stroke="#000" stroke-width="0.3" stroke-linejoin="round"/>
<text x="402.95" y="459.3" font-size="15" text-anchor="middle" font-weight="normal" letter-spacing="0.3">DKO</text>
<line x1="442.2" y1="317.3" x2="442.2" y2="302.8" stroke="#000" stroke-width="1.6" stroke-linecap="butt"/>
<line x1="436.8" y1="302.8" x2="447.59999999999997" y2="302.8" stroke="#000" stroke-width="1.8" stroke-linecap="butt"/>
<rect x="432.8" y="318.1" width="18.799999999999976" height="123.2" fill="#fff" stroke="#000" stroke-width="1.6"/>
<path d="M442.35,290.30L442.90,285.30L440.70,285.30L441.25,290.30ZM441.97,290.82L446.90,289.80L446.22,287.71L441.63,289.78ZM441.36,290.62L443.85,294.99L445.63,293.70L442.24,289.98ZM441.36,289.98L437.97,293.70L439.75,294.99L442.24,290.62ZM441.97,289.78L437.38,287.71L436.70,289.80L441.63,290.82Z" fill="#000" stroke="#000" stroke-width="0.3" stroke-linejoin="round"/>
<text x="438.9" y="459.3" font-size="14.5" text-anchor="middle" font-weight="normal">WT</text>
<line x1="475.6" y1="317" x2="475.6" y2="310.2" stroke="#000" stroke-width="1.6" stroke-linecap="butt"/>
<line x1="470.20000000000005" y1="310.2" x2="481.0" y2="310.2" stroke="#000" stroke-width="1.8" stroke-linecap="butt"/>
<rect x="465.2" y="317" width="20.80000000000001" height="124.30000000000001" fill="#000"/>
<path d="M475.55,295.70L476.10,290.70L473.90,290.70L474.45,295.70ZM475.17,296.22L480.10,295.20L479.42,293.11L474.83,295.18ZM474.56,296.02L477.05,300.39L478.83,299.10L475.44,295.38ZM474.56,295.38L471.17,299.10L472.95,300.39L475.44,296.02ZM475.17,295.18L470.58,293.11L469.90,295.20L474.83,296.22Z" fill="#000" stroke="#000" stroke-width="0.3" stroke-linejoin="round"/>
<text x="477.84999999999997" y="459.3" font-size="15" text-anchor="middle" font-weight="normal" letter-spacing="0.3">DKO</text>
<line x1="74.3" y1="465.8" x2="126" y2="465.8" stroke="#000" stroke-width="3.2" stroke-linecap="butt"/>
<text x="98.95" y="480.6" font-size="15.4" text-anchor="middle" font-weight="normal">B cells</text>
<line x1="133.8" y1="465.8" x2="186.9" y2="465.8" stroke="#000" stroke-width="3.2" stroke-linecap="butt"/>
<text x="161.8" y="481.4" font-size="15.4" text-anchor="middle" font-weight="normal">pDCs</text>
<line x1="201.6" y1="465.8" x2="256.1" y2="465.8" stroke="#000" stroke-width="3.2" stroke-linecap="butt"/>
<text x="235.1" y="481.4" font-size="15.4" text-anchor="middle" font-weight="normal">cDCs</text>
<line x1="298.75" y1="465.8" x2="350.75" y2="465.8" stroke="#000" stroke-width="3.2" stroke-linecap="butt"/>
<text x="326.2" y="480" font-size="15.4" text-anchor="middle" font-weight="normal">B cells</text>
<line x1="360.5" y1="465.8" x2="412.3" y2="465.8" stroke="#000" stroke-width="3.2" stroke-linecap="butt"/>
<text x="387" y="481.25" font-size="15.4" text-anchor="middle" font-weight="normal">pDCs</text>
<line x1="432.3" y1="465.8" x2="486.5" y2="465.8" stroke="#000" stroke-width="3.2" stroke-linecap="butt"/>
<text x="461.2" y="481.2" font-size="15.4" text-anchor="middle" font-weight="normal">cDCs</text>
</svg>
</body></html>
